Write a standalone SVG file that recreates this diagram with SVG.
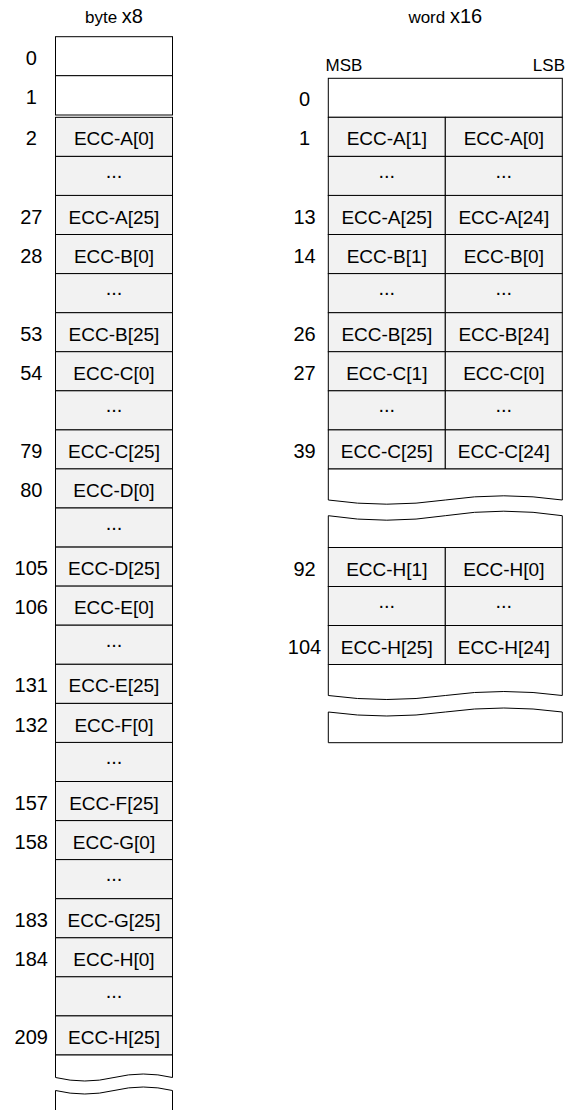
<svg xmlns="http://www.w3.org/2000/svg" width="565" height="1110" viewBox="0 0 565 1110">
<style>
.w{fill:#ffffff;stroke:#000000;stroke-width:1}
.g{fill:#f2f2f2;stroke:#000000;stroke-width:1}
text{font-family:"Liberation Sans",Arial,Helvetica,sans-serif;fill:#000000}
.c{font-size:19px;text-anchor:middle}
.n{font-size:20px;text-anchor:middle}
.d{font-size:20px;text-anchor:middle}
.h{font-size:17px}
</style>
<rect width="565" height="1110" fill="#ffffff"/>
<g id="headers">
<text x="114" y="22.7" class="h" text-anchor="middle">byte <tspan font-size="20px">x8</tspan></text>
<text x="445.3" y="22.7" class="h" text-anchor="middle">word <tspan font-size="20px">x16</tspan></text>
<text x="325.5" y="70.7" class="h">MSB</text>
<text x="565" y="70.7" class="h" text-anchor="end">LSB</text>
</g>
<g id="byte-column">
<g id="b-row0"><rect class="w" x="55.5" y="36.7" width="117" height="39"/><text class="n" x="31.3" y="64.7">0</text></g>
<g id="b-row1"><rect class="w" x="55.5" y="75.7" width="117" height="39.3"/><text class="n" x="31.3" y="103.8">1</text></g>
<g id="b-A0"><rect class="g" x="55.5" y="117.3" width="117" height="39.1"/><text class="n" x="31.3" y="145.4">2</text><text class="c" x="114" y="145.4">ECC-A[0]</text></g>
<g id="b-A1"><rect class="g" x="55.5" y="156.4" width="117" height="39.1"/><text class="d" x="114" y="178">...</text></g>
<g id="b-A25"><rect class="g" x="55.5" y="195.4" width="117" height="39.1"/><text class="n" x="31.3" y="223.5">27</text><text class="c" x="114" y="223.5">ECC-A[25]</text></g>
<g id="b-B0"><rect class="g" x="55.5" y="234.5" width="117" height="39.1"/><text class="n" x="31.3" y="262.6">28</text><text class="c" x="114" y="262.6">ECC-B[0]</text></g>
<g id="b-B1"><rect class="g" x="55.5" y="273.6" width="117" height="39.1"/><text class="d" x="114" y="295.2">...</text></g>
<g id="b-B25"><rect class="g" x="55.5" y="312.7" width="117" height="39.1"/><text class="n" x="31.3" y="340.8">53</text><text class="c" x="114" y="340.8">ECC-B[25]</text></g>
<g id="b-C0"><rect class="g" x="55.5" y="351.7" width="117" height="39.1"/><text class="n" x="31.3" y="379.8">54</text><text class="c" x="114" y="379.8">ECC-C[0]</text></g>
<g id="b-C1"><rect class="g" x="55.5" y="390.8" width="117" height="39.1"/><text class="d" x="114" y="412.4">...</text></g>
<g id="b-C25"><rect class="g" x="55.5" y="429.9" width="117" height="39.1"/><text class="n" x="31.3" y="458">79</text><text class="c" x="114" y="458">ECC-C[25]</text></g>
<g id="b-D0"><rect class="g" x="55.5" y="468.9" width="117" height="39.1"/><text class="n" x="31.3" y="497">80</text><text class="c" x="114" y="497">ECC-D[0]</text></g>
<g id="b-D1"><rect class="g" x="55.5" y="508" width="117" height="39.1"/><text class="d" x="114" y="529.6">...</text></g>
<g id="b-D25"><rect class="g" x="55.5" y="547.1" width="117" height="39.1"/><text class="n" x="31.3" y="575.2">105</text><text class="c" x="114" y="575.2">ECC-D[25]</text></g>
<g id="b-E0"><rect class="g" x="55.5" y="586.1" width="117" height="39.1"/><text class="n" x="31.3" y="614.2">106</text><text class="c" x="114" y="614.2">ECC-E[0]</text></g>
<g id="b-E1"><rect class="g" x="55.5" y="625.2" width="117" height="39.1"/><text class="d" x="114" y="646.8">...</text></g>
<g id="b-E25"><rect class="g" x="55.5" y="664.3" width="117" height="39.1"/><text class="n" x="31.3" y="692.4">131</text><text class="c" x="114" y="692.4">ECC-E[25]</text></g>
<g id="b-F0"><rect class="g" x="55.5" y="703.4" width="117" height="39.1"/><text class="n" x="31.3" y="731.5">132</text><text class="c" x="114" y="731.5">ECC-F[0]</text></g>
<g id="b-F1"><rect class="g" x="55.5" y="742.4" width="117" height="39.1"/><text class="d" x="114" y="764">...</text></g>
<g id="b-F25"><rect class="g" x="55.5" y="781.5" width="117" height="39.1"/><text class="n" x="31.3" y="809.6">157</text><text class="c" x="114" y="809.6">ECC-F[25]</text></g>
<g id="b-G0"><rect class="g" x="55.5" y="820.6" width="117" height="39.1"/><text class="n" x="31.3" y="848.7">158</text><text class="c" x="114" y="848.7">ECC-G[0]</text></g>
<g id="b-G1"><rect class="g" x="55.5" y="859.6" width="117" height="39.1"/><text class="d" x="114" y="881.2">...</text></g>
<g id="b-G25"><rect class="g" x="55.5" y="898.7" width="117" height="39.1"/><text class="n" x="31.3" y="926.8">183</text><text class="c" x="114" y="926.8">ECC-G[25]</text></g>
<g id="b-H0"><rect class="g" x="55.5" y="937.8" width="117" height="39.1"/><text class="n" x="31.3" y="965.9">184</text><text class="c" x="114" y="965.9">ECC-H[0]</text></g>
<g id="b-H1"><rect class="g" x="55.5" y="976.8" width="117" height="39.1"/><text class="d" x="114" y="998.4">...</text></g>
<g id="b-H25"><rect class="g" x="55.5" y="1015.9" width="117" height="39.1"/><text class="n" x="31.3" y="1044">209</text><text class="c" x="114" y="1044">ECC-H[25]</text></g>
<g id="b-break-top"><path class="w" d="M55.5,1055 H172.5 V1077.5 Q143.25,1070.5 114,1077.5 T55.5,1077.5 Z"/></g>
<g id="b-break-bottom"><path class="w" d="M55.5,1090.5 Q84.75,1097.5 114,1090.5 T172.5,1090.5 V1115 H55.5 Z"/></g>
</g>
<g id="word-column">
<g id="w-row0"><rect class="w" x="328.3" y="78.3" width="234" height="39"/><text class="n" x="304.5" y="106.3">0</text></g>
<g id="w-A1"><rect class="g" x="328.3" y="117.3" width="117" height="39.1"/><rect class="g" x="445.3" y="117.3" width="117" height="39.1"/><text class="n" x="304.5" y="145.4">1</text><text class="c" x="386.8" y="145.4">ECC-A[1]</text><text class="c" x="503.8" y="145.4">ECC-A[0]</text></g>
<g id="w-A2"><rect class="g" x="328.3" y="156.4" width="117" height="39.1"/><rect class="g" x="445.3" y="156.4" width="117" height="39.1"/><text class="d" x="386.8" y="178">...</text><text class="d" x="503.8" y="178">...</text></g>
<g id="w-A13"><rect class="g" x="328.3" y="195.4" width="117" height="39.1"/><rect class="g" x="445.3" y="195.4" width="117" height="39.1"/><text class="n" x="304.5" y="223.5">13</text><text class="c" x="386.8" y="223.5">ECC-A[25]</text><text class="c" x="503.8" y="223.5">ECC-A[24]</text></g>
<g id="w-B14"><rect class="g" x="328.3" y="234.5" width="117" height="39.1"/><rect class="g" x="445.3" y="234.5" width="117" height="39.1"/><text class="n" x="304.5" y="262.6">14</text><text class="c" x="386.8" y="262.6">ECC-B[1]</text><text class="c" x="503.8" y="262.6">ECC-B[0]</text></g>
<g id="w-B15"><rect class="g" x="328.3" y="273.6" width="117" height="39.1"/><rect class="g" x="445.3" y="273.6" width="117" height="39.1"/><text class="d" x="386.8" y="295.2">...</text><text class="d" x="503.8" y="295.2">...</text></g>
<g id="w-B26"><rect class="g" x="328.3" y="312.7" width="117" height="39.1"/><rect class="g" x="445.3" y="312.7" width="117" height="39.1"/><text class="n" x="304.5" y="340.8">26</text><text class="c" x="386.8" y="340.8">ECC-B[25]</text><text class="c" x="503.8" y="340.8">ECC-B[24]</text></g>
<g id="w-C27"><rect class="g" x="328.3" y="351.7" width="117" height="39.1"/><rect class="g" x="445.3" y="351.7" width="117" height="39.1"/><text class="n" x="304.5" y="379.8">27</text><text class="c" x="386.8" y="379.8">ECC-C[1]</text><text class="c" x="503.8" y="379.8">ECC-C[0]</text></g>
<g id="w-C28"><rect class="g" x="328.3" y="390.8" width="117" height="39.1"/><rect class="g" x="445.3" y="390.8" width="117" height="39.1"/><text class="d" x="386.8" y="412.4">...</text><text class="d" x="503.8" y="412.4">...</text></g>
<g id="w-C39"><rect class="g" x="328.3" y="429.9" width="117" height="39.1"/><rect class="g" x="445.3" y="429.9" width="117" height="39.1"/><text class="n" x="304.5" y="458">39</text><text class="c" x="386.8" y="458">ECC-C[25]</text><text class="c" x="503.8" y="458">ECC-C[24]</text></g>
<g id="w-break1-top"><path class="w" d="M328.3,469 H562.3 V500 Q503.8,491.6 445.3,500 T328.3,500 Z"/></g>
<g id="w-break1-bottom"><path class="w" d="M328.3,515.7 Q386.8,524.7 445.3,515.7 T562.3,515.7 V547.5 H328.3 Z"/></g>
<g id="w-H92"><rect class="g" x="328.3" y="547.5" width="117" height="39"/><rect class="g" x="445.3" y="547.5" width="117" height="39"/><text class="n" x="304.5" y="575.5">92</text><text class="c" x="386.8" y="575.5">ECC-H[1]</text><text class="c" x="503.8" y="575.5">ECC-H[0]</text></g>
<g id="w-H93"><rect class="g" x="328.3" y="586.5" width="117" height="39"/><rect class="g" x="445.3" y="586.5" width="117" height="39"/><text class="d" x="386.8" y="608">...</text><text class="d" x="503.8" y="608">...</text></g>
<g id="w-H104"><rect class="g" x="328.3" y="625.5" width="117" height="39"/><rect class="g" x="445.3" y="625.5" width="117" height="39"/><text class="n" x="304.5" y="653.5">104</text><text class="c" x="386.8" y="653.5">ECC-H[25]</text><text class="c" x="503.8" y="653.5">ECC-H[24]</text></g>
<g id="w-break2-top"><path class="w" d="M328.3,664.5 H562.3 V695.5 Q503.8,687.5 445.3,695.5 T328.3,695.5 Z"/></g>
<g id="w-break2-bottom"><path class="w" d="M328.3,712 Q386.8,720 445.3,712 T562.3,712 V742.7 H328.3 Z"/></g>
</g>
<g id="connectors"></g>
</svg>
